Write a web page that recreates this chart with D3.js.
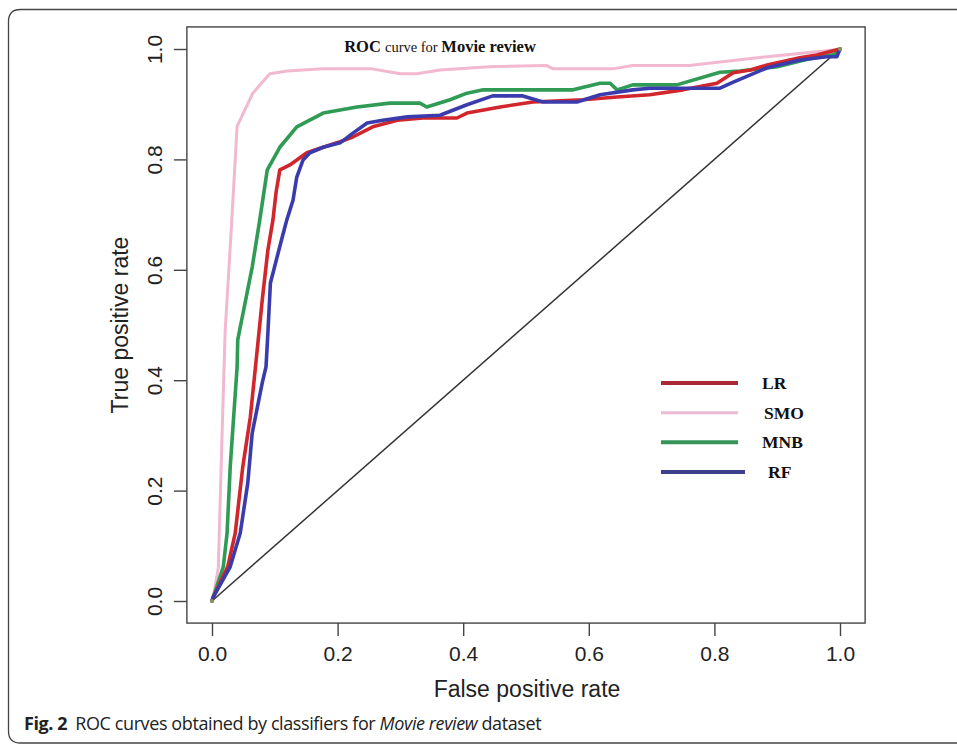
<!DOCTYPE html>
<html>
<head>
<meta charset="utf-8">
<script src="https://cdn.jsdelivr.net/npm/d3@7"></script>
<style>
  body { margin: 0; background: #fff; }
  svg { display: block; }
</style>
</head>
<body>
<div id="chart"></div>
<script>
// ROC points: [false positive rate, true positive rate]
const lrPoints = [
  [0, 0], [0.002, 0.007], [0.025, 0.062], [0.037, 0.123], [0.049, 0.243], [0.061, 0.333],
  [0.072, 0.455], [0.080, 0.545], [0.089, 0.636], [0.097, 0.690], [0.102, 0.74], [0.108, 0.781],
  [0.124, 0.790], [0.151, 0.812], [0.177, 0.822], [0.204, 0.832], [0.225, 0.841], [0.256, 0.859],
  [0.295, 0.871], [0.336, 0.875], [0.390, 0.875], [0.406, 0.884], [0.459, 0.895], [0.511, 0.904],
  [0.591, 0.908], [0.645, 0.913], [0.697, 0.917], [0.750, 0.926], [0.804, 0.938], [0.830, 0.957],
  [0.857, 0.962], [0.884, 0.971], [0.936, 0.984], [0.963, 0.989], [1, 1]
];
const smoPoints = [
  [0, 0], [0.002, 0.007], [0.010, 0.06], [0.016, 0.30], [0.021, 0.49], [0.030, 0.66],
  [0.040, 0.86], [0.065, 0.92], [0.092, 0.955], [0.12, 0.960], [0.176, 0.964], [0.255, 0.964],
  [0.30, 0.955], [0.326, 0.955], [0.363, 0.962], [0.441, 0.968], [0.533, 0.970], [0.543, 0.964],
  [0.638, 0.964], [0.67, 0.970], [0.76, 0.970], [0.884, 0.986], [0.99, 0.998], [1, 1]
];
const mnbPoints = [
  [0, 0], [0.002, 0.007], [0.018, 0.062], [0.024, 0.123], [0.029, 0.243], [0.040, 0.424],
  [0.041, 0.473], [0.064, 0.605], [0.076, 0.690], [0.088, 0.781], [0.108, 0.822], [0.135, 0.859],
  [0.177, 0.884], [0.231, 0.895], [0.283, 0.902], [0.331, 0.902], [0.342, 0.895], [0.379, 0.908],
  [0.406, 0.920], [0.432, 0.926], [0.575, 0.926], [0.618, 0.938], [0.634, 0.938], [0.645, 0.926],
  [0.670, 0.935], [0.740, 0.935], [0.809, 0.958], [0.841, 0.960], [0.90, 0.968], [0.95, 0.982],
  [0.99, 0.99], [1, 1]
];
const rfPoints = [
  [0, 0], [0.002, 0.007], [0.029, 0.062], [0.045, 0.123], [0.057, 0.214], [0.064, 0.304],
  [0.080, 0.395], [0.086, 0.424], [0.089, 0.486], [0.093, 0.576], [0.112, 0.660], [0.119, 0.690],
  [0.129, 0.726], [0.135, 0.768], [0.145, 0.799], [0.156, 0.812], [0.177, 0.822], [0.204, 0.830],
  [0.225, 0.848], [0.247, 0.866], [0.272, 0.871], [0.311, 0.877], [0.363, 0.880], [0.406, 0.899],
  [0.447, 0.915], [0.495, 0.915], [0.527, 0.904], [0.581, 0.904], [0.618, 0.917], [0.670, 0.926],
  [0.697, 0.929], [0.809, 0.929], [0.830, 0.940], [0.884, 0.966], [0.936, 0.980], [0.979, 0.986],
  [0.995, 0.986], [1, 1]
];
const chancePoints = [[0, 0], [1, 1]];

const seriesNames = ["LR", "SMO", "MNB", "RF"];
const xTicks = [0, 0.2, 0.4, 0.6, 0.8, 1.0];
const yTicks = [0, 0.2, 0.4, 0.6, 0.8, 1.0];

const series = [
  { name: "LR", points: lrPoints, color: "#d0262c", legendColor: "#a82836", width: 3.6 },
  { name: "SMO", points: smoPoints, color: "#f1b8cf", legendColor: "#ecbcd2", width: 3 },
  { name: "MNB", points: mnbPoints, color: "#2f9b55", legendColor: "#36935a", width: 3.6 },
  { name: "RF", points: rfPoints, color: "#3a3cad", legendColor: "#3c3f8c", width: 3.6 }
];

const W = 957, H = 745;
const svg = d3.select("#chart").append("svg")
  .attr("width", W).attr("height", H);

// outer figure frame (rounded on the left, running off the right edge)
const fr = 12, fx = 8.5, fy = 9.5, fb = 743;
svg.append("path")
  .attr("d", `M${W + 2},${fy} H${fx + fr} Q${fx},${fy} ${fx},${fy + fr} V${fb - fr} Q${fx},${fb} ${fx + fr},${fb} H${W + 2}`)
  .attr("fill", "none").attr("stroke", "#444").attr("stroke-width", 1.3);

// R-style plot region with 4% padding around [0,1]
const x = d3.scaleLinear().domain([0, 1]).range([212, 840]);
const y = d3.scaleLinear().domain([0, 1]).range([601, 49]);
const pad = 0.04;
const boxL = x(-pad), boxR = x(1 + pad), boxT = y(1 + pad), boxB = y(-pad);

const g = svg.append("g");

// diagonal
const line = d3.line().x(d => x(d[0])).y(d => y(d[1]));
g.append("path").datum(chancePoints)
  .attr("d", line).attr("fill", "none")
  .attr("stroke", "#333").attr("stroke-width", 1.5);

// curves, pink first so the others sit on top
["SMO", "MNB", "LR", "RF"].forEach(n => {
  const s = series.find(d => d.name === n);
  g.append("path").datum(s.points)
    .attr("d", line)
    .attr("fill", "none")
    .attr("stroke", s.color)
    .attr("stroke-width", s.width)
    .attr("stroke-linejoin", "round")
    .attr("stroke-linecap", "round");
});

// little marks at the corner points
g.selectAll("circle.end").data(chancePoints).enter().append("circle")
  .attr("cx", d => x(d[0])).attr("cy", d => y(d[1])).attr("r", 2)
  .attr("fill", "#8a9a5b");

// box
g.append("rect")
  .attr("x", boxL).attr("y", boxT)
  .attr("width", boxR - boxL).attr("height", boxB - boxT)
  .attr("fill", "none").attr("stroke", "#444").attr("stroke-width", 1.4);

// axes
const xAxis = svg.append("g")
  .attr("transform", `translate(0,${boxB})`)
  .call(d3.axisBottom(x).tickValues(xTicks).tickSize(13).tickPadding(10).tickFormat(d3.format(".1f")));
xAxis.select(".domain").remove();
xAxis.selectAll("line").attr("stroke", "#444").attr("stroke-width", 1.4);
xAxis.selectAll("text")
  .attr("font-family", "Liberation Sans, Arial, sans-serif")
  .attr("font-size", 21).attr("fill", "#222");

const yAxis = svg.append("g")
  .attr("transform", `translate(${boxL},0)`)
  .call(d3.axisLeft(y).tickValues(yTicks).tickSize(13).tickFormat(d3.format(".1f")));
yAxis.select(".domain").remove();
yAxis.selectAll("line").attr("stroke", "#444").attr("stroke-width", 1.4);
yAxis.selectAll("text")
  .attr("font-family", "Liberation Sans, Arial, sans-serif")
  .attr("font-size", 21).attr("fill", "#222")
  .attr("text-anchor", "middle")
  .attr("dy", null)
  .attr("x", null)
  .attr("transform", "translate(-30,0) rotate(-90)")
  .attr("y", 0)
  .attr("dominant-baseline", "middle");

// axis titles
svg.append("text")
  .attr("x", 527).attr("y", 697)
  .attr("text-anchor", "middle")
  .attr("font-family", "Liberation Sans, Arial, sans-serif")
  .attr("font-size", 23).attr("fill", "#222")
  .text("False positive rate");

svg.append("text")
  .attr("transform", `translate(128,${(y(0) + y(1)) / 2}) rotate(-90)`)
  .attr("text-anchor", "middle")
  .attr("font-family", "Liberation Sans, Arial, sans-serif")
  .attr("font-size", 23).attr("fill", "#222")
  .text("True positive rate");

// inner title
const title = svg.append("text")
  .attr("x", 440).attr("y", 52)
  .attr("text-anchor", "middle")
  .attr("font-family", "Liberation Serif, Times New Roman, serif")
  .attr("font-size", 16.5).attr("fill", "#111");
title.append("tspan").attr("font-weight", "bold").text("ROC ");
title.append("tspan").attr("font-size", 14.5).text("curve for ");
title.append("tspan").attr("font-weight", "bold").text("Movie review");

// legend
const legendY = d3.scalePoint().domain(seriesNames).range([383, 472]);
const legend = svg.append("g");
const items = legend.selectAll("g").data(series).enter().append("g")
  .attr("transform", d => `translate(0,${legendY(d.name)})`);
items.append("line")
  .attr("x1", 661).attr("x2", d => d.name === "RF" ? 745 : 738)
  .attr("y1", 0).attr("y2", 0)
  .attr("stroke", d => d.legendColor)
  .attr("stroke-width", d => d.name === "SMO" ? 3 : 4);
items.append("text")
  .attr("x", d => ({ LR: 762, SMO: 764, MNB: 762, RF: 768 })[d.name])
  .attr("y", 6)
  .attr("font-family", "Liberation Serif, Times New Roman, serif")
  .attr("font-weight", "bold")
  .attr("font-size", 17.5).attr("fill", "#111")
  .text(d => d.name);

// caption
const cap = svg.append("text")
  .attr("x", 24).attr("y", 730)
  .attr("font-family", "Open Sans, Noto Sans, sans-serif")
  .attr("font-size", 18).attr("letter-spacing", -0.4).attr("fill", "#222");
cap.append("tspan").attr("font-weight", "bold").text("Fig. 2");
cap.append("tspan").attr("dx", 8).text("ROC curves obtained by classifiers for ");
cap.append("tspan").attr("font-style", "italic").text("Movie review");
cap.append("tspan").text(" dataset");
</script>
</body>
</html>
